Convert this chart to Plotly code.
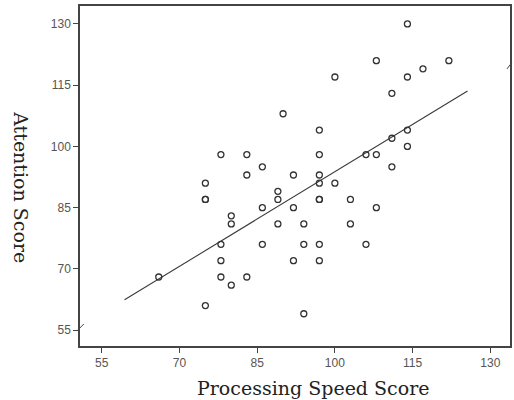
import plotly.graph_objects as go

# Data
processing_speed = [114, 108, 122, 100, 114, 117, 111, 90, 97, 114, 111, 114,
                    78, 83, 97, 106, 108, 86, 111, 83, 92, 97, 75, 97, 100,
                    89, 75, 75, 89, 97, 97, 103, 86, 92, 108, 80, 80, 89, 94, 103,
                    78, 86, 94, 97, 106, 78, 92, 97, 66, 78, 83, 80, 75, 94]
attention = [130, 121, 121, 117, 117, 119, 113, 108, 104, 104, 102, 100,
             98, 98, 98, 98, 98, 95, 95, 93, 93, 93, 91, 91, 91,
             89, 87, 87, 87, 87, 87, 87, 85, 85, 85, 83, 81, 81, 81, 81,
             76, 76, 76, 76, 76, 72, 72, 72, 68, 68, 68, 66, 61, 59]

# Fit line
fit_intercept = 16.5
fit_slope = 0.773
fit_x = [59.4, 125.6]
fit_y = [fit_intercept + fit_slope * v for v in fit_x]

tick_vals = [55, 70, 85, 100, 115, 130]

fig = go.Figure()
fig.add_trace(go.Scatter(
    x=fit_x, y=fit_y, mode="lines",
    line=dict(color="#3a3a3a", width=1.1), showlegend=False, hoverinfo="skip"))
fig.add_trace(go.Scatter(
    x=processing_speed, y=attention, mode="markers",
    marker=dict(symbol="circle-open", size=6, color="#333333", line=dict(width=1.3)),
    showlegend=False))

axis_common = dict(
    showgrid=False, zeroline=False, showline=True, mirror=True,
    linecolor="#444444", linewidth=1.5, ticks="outside", ticklen=5,
    tickcolor="#444444", tickwidth=1,
    tickfont=dict(family="Liberation Sans, Arial, sans-serif", size=12, color="#555555"),
    tickvals=tick_vals,
)

title_font = dict(family="DejaVu Serif, Liberation Serif, serif", size=19, color="#222222")

fig.update_layout(
    width=514, height=400,
    margin=dict(l=80, r=2, t=6, b=54),
    paper_bgcolor="white", plot_bgcolor="white",
    xaxis=dict(range=[50.8, 133.8], **axis_common),
    yaxis=dict(range=[51.1, 134.4], **axis_common),
    annotations=[
        dict(text="Processing Speed Score", xref="paper", yref="paper",
             x=0.542, y=-0.124, xanchor="center", yanchor="middle", showarrow=False,
             font=title_font),
        dict(text="Attention Score", xref="paper", yref="paper",
             x=-0.138, y=0.468, xanchor="center", yanchor="middle", showarrow=False,
             textangle=90, font=title_font),
    ],
    shapes=[
        dict(type="line", xref="paper", yref="paper", x0=-0.005, y0=0.047, x1=0.009, y1=0.065,
             line=dict(color="#444444", width=1)),
        dict(type="line", xref="paper", yref="paper", x0=0.993, y0=0.815, x1=1.004, y1=0.833,
             line=dict(color="#444444", width=1)),
    ],
)

fig.write_html(
    "out.html",
    config={"displayModeBar": False},
    post_script="document.body.style.margin='0';document.body.style.overflow='hidden';",
)
